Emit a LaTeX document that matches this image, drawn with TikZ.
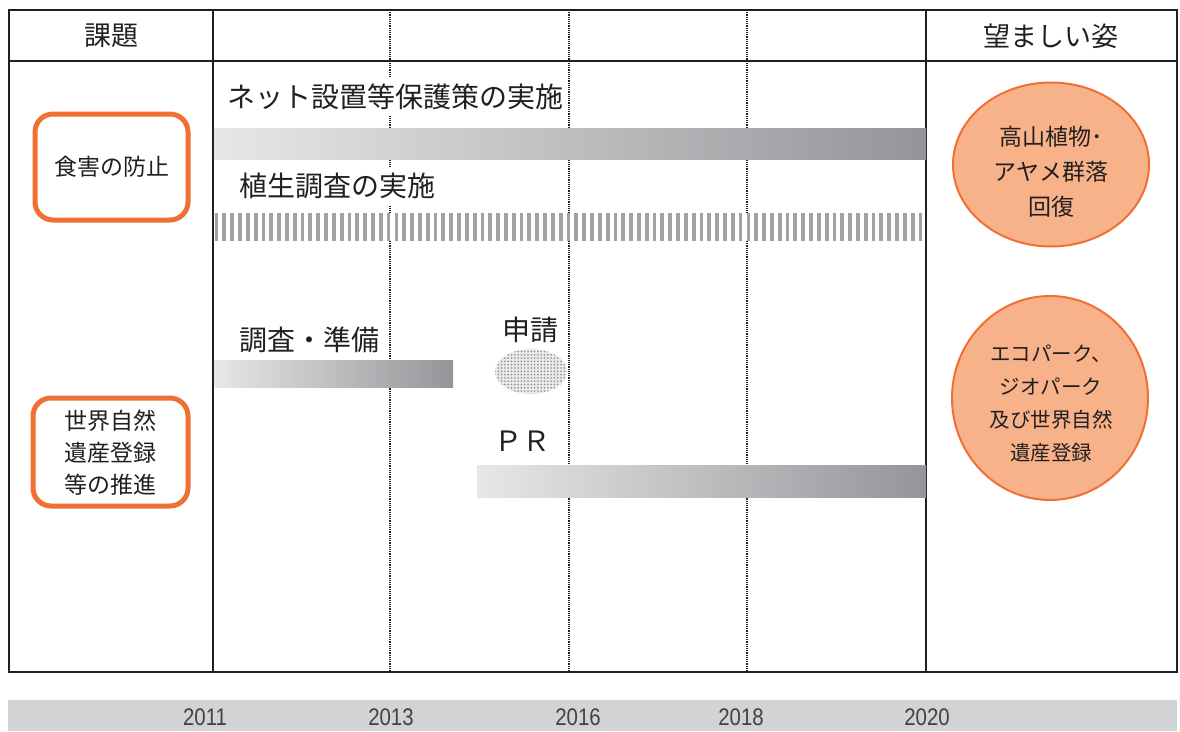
\documentclass[tikz,border=0pt]{standalone}
\usepackage{fontspec}
\setmainfont{Noto Sans CJK JP}
\newfontfamily\yearfont[FakeStretch=0.85]{Liberation Sans}
\usetikzlibrary{shapes.geometric,patterns.meta}
\definecolor{ink}{HTML}{231F20}
\definecolor{orng}{HTML}{F07033}
\definecolor{peach}{HTML}{F7B28A}
\definecolor{barlight}{HTML}{E6E7E8}
\definecolor{bardark}{HTML}{939598}
\definecolor{stripe}{HTML}{A0A2A5}
\definecolor{band}{HTML}{D1D3D4}
\tikzset{
  frameline/.style={draw=ink, line width=2.5pt},
  yearline/.style={draw=ink, line width=1.1pt, dash pattern=on 1.2pt off 1.0pt},
  gradbar/.style={left color=barlight, right color=bardark, draw=none},
  barlabel/.style={anchor=west, font=\fontsize{28}{30}\selectfont, text=ink, fill=white, inner xsep=2pt, inner ysep=6pt},
  headlabel/.style={font=\fontsize{27}{30}\selectfont, text=ink},
  issuebox/.style={draw=orng, line width=5pt, rounded corners=18pt, fill=white, inner sep=0pt},
  goalshape/.style={ellipse, draw=orng, line width=2pt, fill=peach, inner sep=0pt},
  yearlabel/.style={font=\yearfont\fontsize{24}{26}\selectfont, text=ink!85}
}
\begin{document}
\begin{tikzpicture}[x=1pt, y=-1pt]
\useasboundingbox (0,0) rectangle (1180,731);
% year grid (dotted)
\foreach \xx/\nm in {390/a,569/b,747/c}{
  \coordinate (top\nm) at (\xx,10);
  \coordinate (bot\nm) at (\xx,672);
  \draw[yearline] (top\nm) -- (bot\nm);
}
% frame
\coordinate (fa) at (9,10);
\coordinate (fb) at (1177,672);
\draw[frameline] (fa) rectangle (fb);
\coordinate (h1) at (9,61);
\coordinate (h2) at (1177,61);
\draw[frameline] (h1) -- (h2);
\coordinate (v1t) at (213,10);
\coordinate (v1b) at (213,672);
\coordinate (v2t) at (926,10);
\coordinate (v2b) at (926,672);
\draw[frameline] (v1t) -- (v1b);
\draw[frameline] (v2t) -- (v2b);
% headers
\node[headlabel] (hissue) at (111,36) {課題};
\node[headlabel] (hgoal) at (1051,36) {望ましい姿};
% issue boxes
\node[issuebox, minimum width=153pt, minimum height=106pt, font=\fontsize{23}{25}\selectfont, text=ink] (issue1) at (111.5,167) {食害の防止};
\node[issuebox, minimum width=155pt, minimum height=108pt] (issue2) at (110.5,452) {};
\node[font=\fontsize{23}{32}\selectfont, text=ink, align=center] (issue2t) at (110.5,453) {世界自然\\遺産登録\\等の推進};
% bars
\shade[gradbar] (214.5,128) rectangle (926,159);
\fill[white] (214.5,213) rectangle (924,241);
\foreach \i in {0,...,90}{
  \fill[stripe] ({214.6+\i*7.822},213) rectangle ({218.4+\i*7.822},241);
}
\shade[gradbar] (214.5,360) rectangle (453,387);
\shade[gradbar] (477,465) rectangle (926,497);
% application ellipse
\fill[white] (531,371.5) ellipse [x radius=37pt, y radius=23.5pt];
\fill[black!8] (531,371.5) ellipse [x radius=36pt, y radius=22.5pt];
\fill[pattern={Dots[distance=3.3pt, radius=1.0pt]}, pattern color=black!40] (531,371.5) ellipse [x radius=36pt, y radius=22.5pt];
% bar labels
\node[barlabel] (l1) at (225,97) {ネット設置等保護策の実施};
\node[barlabel] (l2) at (237,186) {植生調査の実施};
\node[barlabel] (l3) at (237,340) {調査・準備};
\node[barlabel, anchor=center] (l4) at (530,330) {申請};
\node[barlabel, anchor=center] (l5) at (522,441) {ＰＲ};
% goals
\node[goalshape, minimum width=196pt, minimum height=164pt] (goal1) at (1051,164.5) {};
\node[font=\fontsize{23}{35}\selectfont, text=ink, align=center] (goal1t) at (1051,172) {高山植物･\\アヤメ群落\\回復};
\node[goalshape, minimum width=196pt, minimum height=204pt] (goal2) at (1050,398) {};
\node[font=\fontsize{20.5}{33}\selectfont, text=ink, align=center] (goal2t) at (1051,404) {エコパーク、\\ジオパーク\\及び世界自然\\遺産登録};
% year band
\fill[band] (8,700) rectangle (1177,731);
\node[yearlabel] (y2011) at (205,717) {2011};
\node[yearlabel] (y2013) at (391,717) {2013};
\node[yearlabel] (y2016) at (578,717) {2016};
\node[yearlabel] (y2018) at (741,717) {2018};
\node[yearlabel] (y2020) at (927,717) {2020};
\end{tikzpicture}
\end{document}
